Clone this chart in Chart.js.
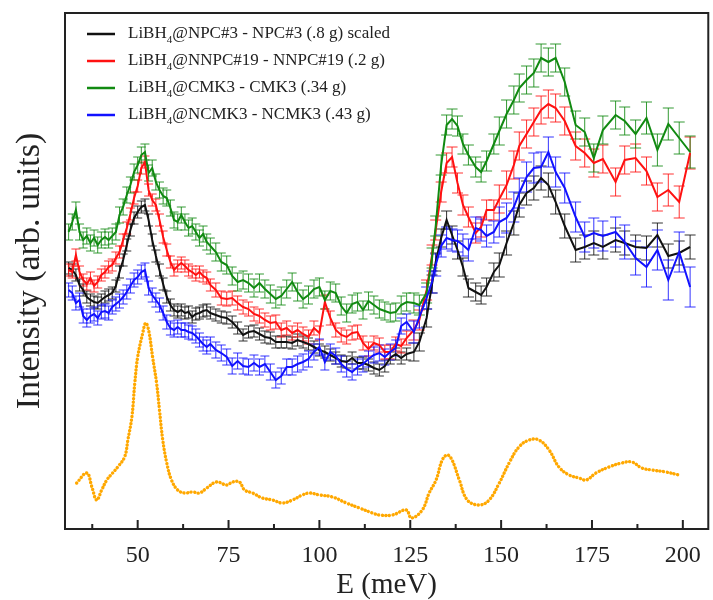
<!DOCTYPE html>
<html>
<head>
<meta charset="utf-8">
<script src="https://cdn.jsdelivr.net/npm/chart.js@4"></script>
<style>
  html, body { margin: 0; padding: 0; background: #fff; }
</style>
</head>
<body>
<canvas id="myChart" width="713" height="600"></canvas>
<script>
// energy grid shared by the four measured spectra (meV)
const energy = [31,32,33,34,35,36,37,38,39,40,41,42,43,44,45,46,47,48,49,50,51,52,53,54,55,56,57,58,59,60,61,62,63,64,65,66,67,68,69,70,
  71.5,73,74.5,76,77.5,79,80.5,82,83.5,85,86.5,88,89.5,91,92.5,94,95.5,97,98.5,100,101.5,103,104.5,106,107.5,109,110.5,112,113.5,115,116.5,118,119.5,121,122.5,124,
  126,127.5,129.5,131,132,133.5,135,136.5,138,139.5,141,143,144.5,146,148,149.5,151.5,153.5,155,157,159,161,163,165,167.5,170.5,173,175.5,178,181.5,184,187,190,193,196,199,202]

// intensities (arb. units, offset as in the figure)
const npc = [261,259,254,244,239,232,229,227,226,229,232,234,236,243,257,269,284,299,311,317,322,324,309,289,273,259,245,232,224,219,217,219,216,217,212,215,216,218,219,216,
  214,212,211,207,201,194,197,198,195,192,191,187,187,187,186,189,187,185,182,179,177,174,171,168,167,171,166,166,164,161,159,163,171,175,171,175,
  177,187,211,245,267,291,309,294,279,262,241,237,234,242,257,264,286,306,324,336,341,351,344,327,303,279,282,286,282,289,286,282,281,294,273,276,282]
const nnpc = [259,257,274,257,249,245,251,243,247,254,257,262,264,271,277,289,301,315,331,343,361,367,339,329,324,309,292,279,267,259,263,266,263,259,257,254,257,253,251,244,
  239,231,230,231,226,222,220,215,213,209,206,207,199,201,196,199,195,192,201,196,227,211,199,194,192,196,197,186,180,186,184,177,177,185,183,191,
  199,209,239,274,299,337,366,372,346,324,312,296,302,319,319,330,344,364,383,395,407,419,425,421,408,383,376,366,370,347,369,371,358,332,339,327,376]
const cmk3 = [297,307,319,297,289,293,286,291,284,289,292,289,293,297,314,322,334,344,357,364,374,377,356,361,347,339,333,331,321,309,307,314,307,301,303,297,291,295,287,283,
  277,267,264,253,247,249,246,241,246,240,235,230,233,240,247,237,230,234,240,242,229,238,236,223,216,225,227,219,228,224,220,218,216,217,224,227,
  226,224,236,271,303,364,404,410,403,385,374,362,357,368,385,398,415,429,441,449,456,471,467,471,447,404,397,371,399,414,408,395,411,379,405,391,377]
const ncmk3 = [239,236,226,229,213,209,213,215,211,217,218,216,222,225,228,232,237,243,249,252,257,259,241,234,229,224,216,207,201,199,202,199,199,197,196,193,189,185,182,185,
  179,176,172,163,168,163,162,166,162,165,157,149,153,162,162,165,167,170,177,182,167,177,173,165,160,157,162,165,170,174,176,172,177,181,203,207,
  197,212,231,247,264,283,291,289,288,284,279,301,299,293,297,307,311,322,336,352,361,362,377,357,341,312,292,296,293,297,287,271,262,279,249,277,242]

// error bar half-heights
const npcErr = [6,6,6,6,6,6,6,6,6,6,6,6,6,6,6,6,6,6,6,6,6,6,6,6,6,6,6,6,6,6,6,6,6,6,6,6,6,6,6,6,
  6,6,6,6,6,6,6,6,6,6,6,6,6,6,6,6,6,6,6,6,6,6,6,6,6,6,6,6,6,6,6,6,6,6,6,6,
  9,9,9,9,9,9,9,9,9,9,9,9,9,9,9,12,12,12,12,12,12,12,12,12,12,12,12,12,12,12,12,12,12,12,12,12,12]
const nnpcErr = [6,6,6,6,6,6,6,6,6,6,6,6,6,6,6,6,6,6,6,6,6,6,6,6,6,6,6,6,6,6,6,6,6,6,6,6,6,6,6,6,
  7,7,7,7,7,7,7,7,7,7,7,7,7,7,7,7,7,7,7,7,7,7,7,7,7,7,7,7,7,7,7,7,7,7,7,7,
  10,10,10,10,10,10,10,10,10,10,10,10,10,10,10,14,14,14,14,14,14,14,14,14,14,14,14,14,14,14,14,14,14,14,16,16,16]
const cmk3Err = [8,8,8,8,8,8,8,8,8,8,8,8,8,8,8,8,8,8,8,8,8,8,8,8,8,8,8,8,8,8,8,8,8,8,8,8,8,8,8,8,
  9,9,9,9,9,9,9,9,9,9,9,9,9,9,9,9,9,9,9,9,9,9,9,9,9,9,9,9,9,9,9,9,9,9,9,9,
  10,10,10,10,10,10,10,10,10,10,10,10,10,10,10,14,14,14,14,14,14,14,14,14,14,14,14,14,14,14,14,14,16,16,16,16,16]
const ncmk3Err = [7,7,7,7,7,7,7,7,7,7,7,7,7,7,7,7,7,7,7,7,7,7,7,7,7,7,7,7,7,7,7,7,7,7,7,7,7,7,7,7,
  8,8,8,8,8,8,8,8,8,8,8,8,8,8,8,8,8,8,8,8,8,8,8,8,8,8,8,8,8,8,8,8,8,8,8,8,
  11,11,11,11,11,11,11,11,11,11,11,11,11,11,11,15,15,15,15,15,15,15,15,15,15,15,15,15,15,15,17,17,20,20,20,20,20]

// calculated spectrum (orange dots)
const calcE = [33.2,36,37.4,38.7,40.1,41.5,43.1,44.5,46.4,47.3,48.4,49.2,50,51.4,52.2,53,54.1,55.2,56,56.9,58,59.3,61,62.9,65.1,67,69,71.7,74.5,76.1,78,79.4,81.6,84.3,87.1,89.8,92.6,95.3,97.3,100,103.6,107.4,111,114.6,116.5,120.1,123.9,125.3,128.3,130.2,132.1,133.8,135.2,136.5,138.5,140.7,144,146.7,149.5,152.2,154.9,157.7,160.4,163.2,165.9,168.7,171.4,173.4,176.1,179.7,183.2,186,188.7,191.5,195.3,198.9]
const calcI = [46,56,42,29,39,49,56,62,72,89,112,146,172,196,206,199,172,146,119,89,66,49,39,36,37,36,41,47,44,47,47,39,36,31,29,26,29,34,36,34,32,26,21,16,14,14,19,11,19,36,49,69,74,69,49,29,24,29,46,66,82,89,89,79,62,54,51,49,56,62,66,67,61,59,57,54]

const xTicks = [50, 75, 100, 125, 150, 175, 200]
const xMinor = [37.5, 62.5, 87.5, 112.5, 137.5, 162.5, 187.5]
const labels = ['LiBH_4@NPC#3 - NPC#3 (.8 g) scaled', 'LiBH_4@NNPC#19 - NNPC#19 (.2 g)', 'LiBH_4@CMK3 - CMK3 (.34 g)', 'LiBH_4@NCMK3 - NCMK3 (.43 g)']
const colors = ['#111111', '#ff1111', '#118a11', '#1111ff']

const serif = "'Liberation Serif', 'Times New Roman', serif"
const seriesVals = [npc, nnpc, cmk3, ncmk3]
const seriesErr = [npcErr, nnpcErr, cmk3Err, ncmk3Err]

function toPoints(xs, ys) {
    return xs.map((x, i) => ({ x: x, y: ys[i] }))
}

const datasets = seriesVals.map((vals, k) => ({
    label: labels[k].replace('_', ''),
    data: toPoints(energy, vals),
    showLine: true,
    borderColor: colors[k],
    borderWidth: 2,
    pointRadius: 0,
    tension: 0,
    order: 4 - k
}))
datasets.push({
    label: 'calc',
    data: toPoints(calcE, calcI),
    showLine: true,
    borderColor: '#ffa800',
    borderWidth: 3.4,
    borderDash: [0.1, 3.5],
    borderCapStyle: 'round',
    pointRadius: 0,
    tension: 0.4,
    order: 5
})

const extras = {
    id: 'extras',
    beforeDatasetsDraw(chart) {
        const ctx = chart.ctx, xs = chart.scales.x, ys = chart.scales.y
        ctx.save()
        ctx.lineWidth = 1
        ctx.globalAlpha = 0.85
        seriesVals.forEach((vals, k) => {
            ctx.strokeStyle = colors[k]
            ctx.beginPath()
            vals.forEach((v, i) => {
                const x = xs.getPixelForValue(energy[i])
                const top = ys.getPixelForValue(v + seriesErr[k][i])
                const bot = ys.getPixelForValue(v - seriesErr[k][i])
                const cap = energy[i] > 125 ? 5.5 : 4.5
                ctx.moveTo(x, top); ctx.lineTo(x, bot)
                ctx.moveTo(x - cap, top); ctx.lineTo(x + cap, top)
                ctx.moveTo(x - cap, bot); ctx.lineTo(x + cap, bot)
            })
            ctx.stroke()
        })
        ctx.restore()
    },
    afterDraw(chart) {
        const ctx = chart.ctx, xs = chart.scales.x
        const a = chart.chartArea
        ctx.save()
        // frame
        ctx.strokeStyle = '#222'
        ctx.lineWidth = 2
        ctx.strokeRect(a.left, a.top, a.right - a.left, a.bottom - a.top)
        // inward ticks
        ctx.beginPath()
        xTicks.forEach(v => {
            const x = xs.getPixelForValue(v)
            ctx.moveTo(x, a.bottom); ctx.lineTo(x, a.bottom - 9)
        })
        xMinor.forEach(v => {
            const x = xs.getPixelForValue(v)
            ctx.moveTo(x, a.bottom); ctx.lineTo(x, a.bottom - 5)
        })
        ctx.stroke()
        // legend
        labels.forEach((lab, i) => {
            const y = 34 + i * 27
            ctx.strokeStyle = colors[i]
            ctx.lineWidth = 2.5
            ctx.beginPath(); ctx.moveTo(87, y); ctx.lineTo(115, y); ctx.stroke()
            const parts = lab.split('_')
            ctx.fillStyle = '#222'
            ctx.textBaseline = 'middle'
            ctx.font = '17px ' + serif
            let x = 128
            ctx.fillText(parts[0], x, y)
            x += ctx.measureText(parts[0]).width
            ctx.font = '11px ' + serif
            ctx.fillText(parts[1][0], x, y + 6)
            x += ctx.measureText(parts[1][0]).width
            ctx.font = '17px ' + serif
            ctx.fillText(parts[1].slice(1), x, y)
        })
        ctx.restore()
    }
}

const config = {
    type: 'scatter',
    data: { datasets: datasets },
    options: {
        responsive: false,
        animation: false,
        layout: { padding: { top: 13, right: 4, left: 0, bottom: 0 } },
        plugins: { legend: { display: false }, tooltip: { enabled: false } },
        scales: {
            x: {
                type: 'linear',
                min: 30,
                max: 207,
                grid: { display: false, drawTicks: false },
                border: { display: false },
                afterBuildTicks: (scale) => { scale.ticks = xTicks.map(v => ({ value: v })) },
                afterFit: (scale) => { scale.height = 71 },
                ticks: { color: '#222', padding: 12, maxRotation: 0, font: { family: serif, size: 24 } },
                title: { display: true, text: 'E (meV)', color: '#222', padding: 0, font: { family: serif, size: 29, lineHeight: 1 } }
            },
            y: {
                type: 'linear',
                min: 0,
                max: 516,
                grid: { display: false, drawTicks: false },
                border: { display: false },
                ticks: { display: false },
                afterFit: (scale) => { scale.width = 65 },
                title: { display: true, text: 'Intensity (arb. units)', color: '#222', padding: { top: 13 }, font: { family: serif, size: 34, lineHeight: 1 } }
            }
        }
    },
    plugins: [extras]
}

new Chart(document.getElementById('myChart'), config)
</script>
</body>
</html>
